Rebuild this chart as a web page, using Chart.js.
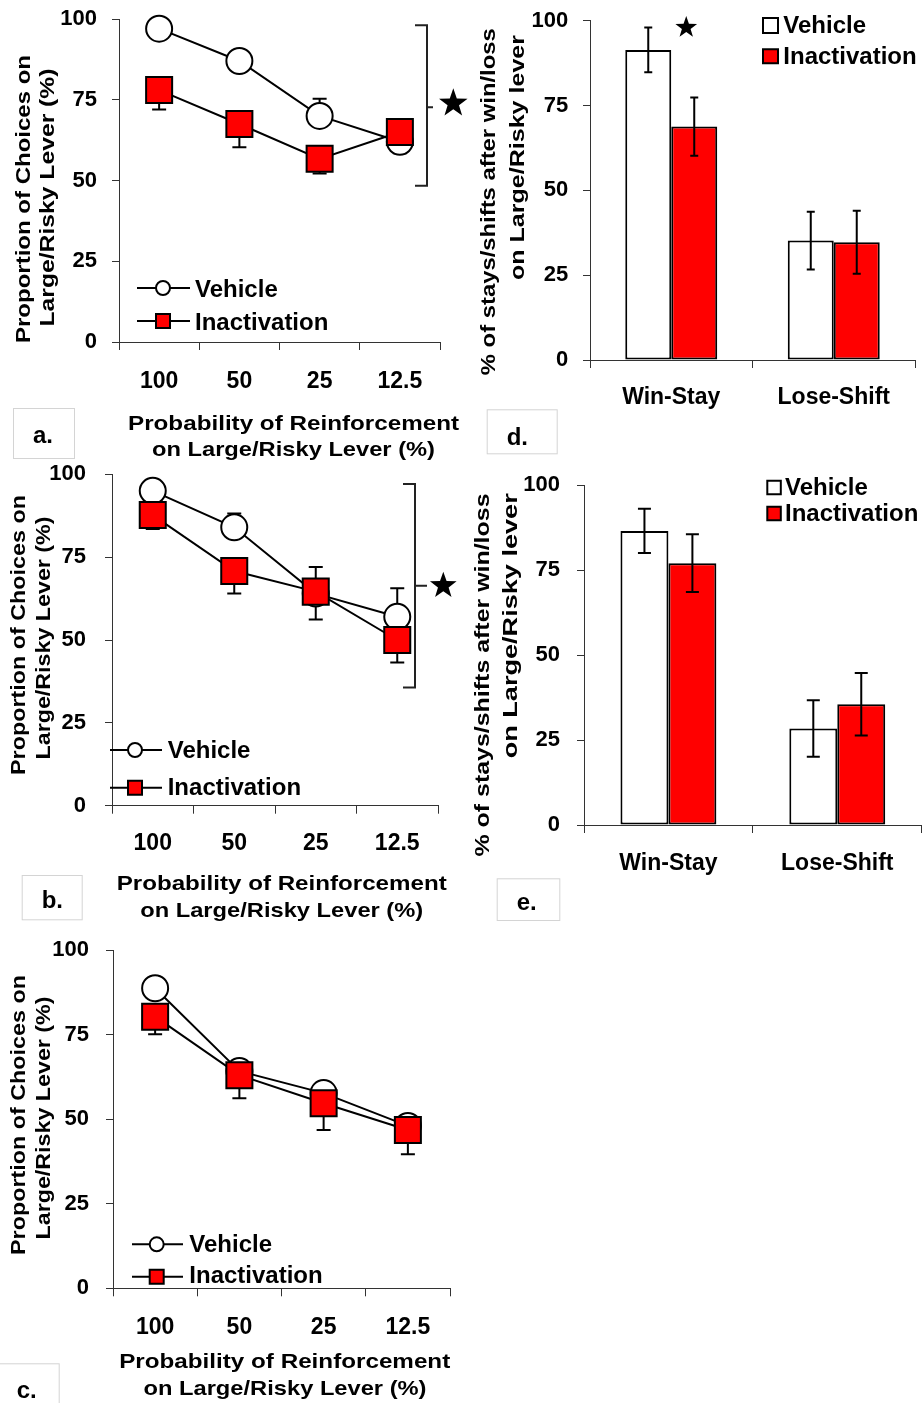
<!DOCTYPE html>
<html><head><meta charset="utf-8">
<script src="https://cdn.jsdelivr.net/npm/chart.js@4/dist/chart.umd.min.js"></script>
<style>
html,body{margin:0;padding:0;background:#fff;}
body{width:922px;height:1403px;position:relative;overflow:hidden;}
canvas{position:absolute;}
</style></head><body>
<canvas id="ca" width="470" height="460" style="left:0px;top:0px"></canvas>
<canvas id="cb" width="470" height="470" style="left:0px;top:460px"></canvas>
<canvas id="cc" width="470" height="473" style="left:0px;top:930px"></canvas>
<canvas id="cd" width="452" height="460" style="left:470px;top:0px"></canvas>
<canvas id="ce" width="462" height="470" style="left:460px;top:460px"></canvas>
<script>
// ---------------- data ----------------
const probLabels = ['100', '50', '25', '12.5'];
const barLabels = ['Win-Stay', 'Lose-Shift'];
const seriesNames = ['Vehicle', 'Inactivation'];
const yTickValues = [0, 25, 50, 75, 100];

// panel a
const vehicleA = [97, 87, 70, 62];
const vehicleA_err = [2.5, 2.5, 5.3, 3];
const inactA = [78, 67.5, 56.7, 65];
const inactA_err = [6, 7.2, 4.5, 6.6];
// panel b
const vehicleB = [95, 84, 64, 57];
const vehicleB_err = [2, 4.2, 8, 8.6];
const inactB = [87.7, 70.8, 64.6, 50];
const inactB_err = [4.2, 6.8, 8.4, 6.8];
// panel c
const vehicleC = [88.7, 64.2, 57.7, 48];
const vehicleC_err = [2, 2, 2, 2];
const inactC = [80.3, 63, 54.7, 46.8];
const inactC_err = [5.2, 6.8, 7.9, 7.2];
// panel d
const vehicleD = [91.4, 35.2];
const vehicleD_err = [6.6, 8.5];
const inactD = [68.8, 34.7];
const inactD_err = [8.6, 9.3];
// panel e
const vehicleE = [86.5, 28.4];
const vehicleE_err = [6.5, 8.3];
const inactE = [77, 35.5];
const inactE_err = [8.5, 9.2];

// ---------------- drawing helpers ----------------
const FONT = '"Liberation Sans", Arial, Helvetica, sans-serif';
Chart.defaults.font.family = FONT;
Chart.defaults.font.weight = 'bold';
Chart.defaults.color = '#000';

function scaledText(ctx, text, x, y, len, size, rot, align) {
  ctx.save();
  ctx.translate(x, y);
  if (rot) ctx.rotate(-Math.PI / 2);
  ctx.font = 'bold ' + size + 'px ' + FONT;
  const w = ctx.measureText(text).width;
  if (len) ctx.scale(len / w, 1);
  ctx.textAlign = align || 'center';
  ctx.textBaseline = 'alphabetic';
  ctx.fillStyle = '#000';
  ctx.fillText(text, 0, 0);
  ctx.restore();
}
function drawStar(ctx, cx, cy, R) {
  const r = R * 0.40;
  ctx.beginPath();
  for (let i = 0; i < 10; i++) {
    const ang = -Math.PI / 2 + i * Math.PI / 5;
    const rad = (i % 2) ? r : R;
    ctx.lineTo(cx + rad * Math.cos(ang), cy + rad * Math.sin(ang));
  }
  ctx.closePath();
  ctx.fillStyle = '#000';
  ctx.fill();
}

// error bars config per canvas
const ERR = {
  ca: {behind: true, sets: [{ds: 0, err: vehicleA_err, dir: 1, cap: 14}, {ds: 1, err: inactA_err, dir: -1, cap: 14}]},
  cb: {behind: true, sets: [{ds: 0, err: vehicleB_err, dir: 1, cap: 14}, {ds: 1, err: inactB_err, dir: -1, cap: 14}]},
  cc: {behind: true, sets: [{ds: 0, err: vehicleC_err, dir: 1, cap: 14}, {ds: 1, err: inactC_err, dir: -1, cap: 14}]},
  cd: {behind: false, sets: [{ds: 0, err: vehicleD_err, dir: 0, cap: 8}, {ds: 1, err: inactD_err, dir: 0, cap: 8}]},
  ce: {behind: false, sets: [{ds: 0, err: vehicleE_err, dir: 0, cap: 13}, {ds: 1, err: inactE_err, dir: 0, cap: 13}]}
};
function drawErr(chart) {
  const cfg = ERR[chart.canvas.id];
  if (!cfg) return;
  const ctx = chart.ctx, ys = chart.scales.y;
  ctx.save();
  ctx.strokeStyle = '#000';
  ctx.lineWidth = 2;
  cfg.sets.forEach(s => {
    const meta = chart.getDatasetMeta(s.ds);
    const vals = chart.data.datasets[s.ds].data;
    meta.data.forEach((el, j) => {
      const x = el.x, v = vals[j], e = s.err[j];
      const ends = s.dir === 0 ? [v + e, v - e] : [v + s.dir * e];
      const y0 = ys.getPixelForValue(s.dir === 0 ? v - e : v);
      ctx.beginPath();
      ctx.moveTo(x, y0);
      ctx.lineTo(x, ys.getPixelForValue(s.dir === 0 ? v + e : v + s.dir * e));
      ends.forEach(val => {
        const yy = ys.getPixelForValue(val);
        ctx.moveTo(x - s.cap / 2, yy);
        ctx.lineTo(x + s.cap / 2, yy);
      });
      ctx.stroke();
    });
  });
  ctx.restore();
}
const errorBarsPlugin = {
  id: 'errbars',
  beforeDatasetsDraw(chart) { const c = ERR[chart.canvas.id]; if (c && c.behind) drawErr(chart); },
  afterDatasetsDraw(chart) { const c = ERR[chart.canvas.id]; if (c && !c.behind) drawErr(chart); }
};

// annotation/layout config per canvas (page coordinates)
const DECOR = {
  ca: {ox: 0, oy: 0,
    yTitle: [{t: 'Proportion of Choices on', x: 30, cy: 199, len: 288, size: 21},
             {t: 'Large/Risky Lever (%)', x: 53.5, cy: 197.5, len: 258, size: 21}],
    xTitle: [{t: 'Probability of Reinforcement', cx: 293.5, y: 430, len: 331, size: 21},
             {t: 'on Large/Risky Lever (%)', cx: 293.5, y: 455.5, len: 283, size: 21}],
    lineLegend: {x0: 137, x1: 190, mx: 163, tx: 195, items: [{y: 288, tb: 296.7}, {y: 321, tb: 330}]},
    bracket: {x: 427, top: 98.1, bot: 48.4, mid: 72.7, serif: 12, tick: 6},
    star: {x: 453.3, v: 73.9, R: 15},
    label: {t: 'a.', box: [13, 408, 74, 458], x: 33, y: 443}
  },
  cb: {ox: 0, oy: 460,
    yTitle: [{t: 'Proportion of Choices on', x: 25, cy: 635, len: 280, size: 21},
             {t: 'Large/Risky Lever (%)', x: 50, cy: 638, len: 243, size: 21}],
    xTitle: [{t: 'Probability of Reinforcement', cx: 281.7, y: 890, len: 330, size: 21},
             {t: 'on Large/Risky Lever (%)', cx: 281.7, y: 916.7, len: 283, size: 21}],
    lineLegend: {x0: 110, x1: 162, mx: 135, tx: 167.7, items: [{y: 750, tb: 758.3}, {y: 787.7, tb: 795}]},
    bracket: {x: 415, top: 97.1, bot: 35.7, mid: 66.4, serif: 12, tick: 12},
    star: {x: 443.3, v: 66.4, R: 14},
    label: {t: 'b.', box: [21.7, 875, 81.7, 919.3], x: 41.7, y: 908.3}
  },
  cc: {ox: 0, oy: 930,
    yTitle: [{t: 'Proportion of Choices on', x: 25, cy: 1115, len: 280, size: 21},
             {t: 'Large/Risky Lever (%)', x: 50, cy: 1118, len: 243, size: 21}],
    xTitle: [{t: 'Probability of Reinforcement', cx: 284.7, y: 1368.3, len: 331, size: 21},
             {t: 'on Large/Risky Lever (%)', cx: 285, y: 1395, len: 283, size: 21}],
    lineLegend: {x0: 132, x1: 183, mx: 156.7, tx: 189.3, items: [{y: 1244.3, tb: 1251.7}, {y: 1276.7, tb: 1283.3}]},
    label: {t: 'c.', box: [-1, 1363.3, 58.7, 1410], x: 16.7, y: 1398.3}
  },
  cd: {ox: 470, oy: 0,
    yTitle: [{t: '% of stays/shifts after win/loss', x: 495, cy: 201.7, len: 347, size: 20},
             {t: 'on Large/Risky lever', x: 524, cy: 157.5, len: 245, size: 20}],
    barLegend: {tx: 783.3, items: [{box: [763, 18, 15, 15], tb: 33.3}, {box: [763, 49.3, 15, 14], tb: 64}]},
    barStar: {cat: 0, ds: 1, dx: -8, v: 98, R: 11.4},
    label: {t: 'd.', box: [486.7, 409.3, 556.7, 453.3], x: 506.7, y: 445}
  },
  ce: {ox: 460, oy: 460,
    yTitle: [{t: '% of stays/shifts after win/loss', x: 488.7, cy: 675, len: 363, size: 20},
             {t: 'on Large/Risky lever', x: 517, cy: 625.8, len: 265, size: 20}],
    barLegend: {tx: 785, items: [{box: [767.3, 480.7, 13.5, 13.5], tb: 495}, {box: [767.3, 506.7, 13.5, 13.5], tb: 520.7}]},
    label: {t: 'e.', box: [496.7, 878.3, 559.3, 920], x: 516.7, y: 910}
  }
};

const decorPlugin = {
  id: 'decor',
  afterDraw(chart) {
    const cfg = DECOR[chart.canvas.id];
    if (!cfg) return;
    const ctx = chart.ctx, ox = cfg.ox, oy = cfg.oy, ys = chart.scales.y;
    const ds = chart.data.datasets;
    ctx.save();
    (cfg.yTitle || []).forEach(t => scaledText(ctx, t.t, t.x - ox, t.cy - oy, t.len, t.size, true));
    (cfg.xTitle || []).forEach(t => scaledText(ctx, t.t, t.cx - ox, t.y - oy, t.len, t.size, false));
    if (cfg.lineLegend) {
      const L = cfg.lineLegend;
      L.items.forEach((it, i) => {
        const y = it.y - oy;
        ctx.strokeStyle = '#000'; ctx.lineWidth = 2;
        ctx.beginPath(); ctx.moveTo(L.x0 - ox, y); ctx.lineTo(L.x1 - ox, y); ctx.stroke();
        const mx = L.mx - ox;
        ctx.fillStyle = ds[i].pointBackgroundColor;
        ctx.beginPath();
        if (i === 0) ctx.arc(mx, y, 7, 0, Math.PI * 2);
        else ctx.rect(mx - 7, y - 7, 14, 14);
        ctx.fill(); ctx.stroke();
        scaledText(ctx, ds[i].label, L.tx - ox, it.tb - oy, null, 24, false, 'left');
      });
    }
    if (cfg.barLegend) {
      const L = cfg.barLegend;
      L.items.forEach((it, i) => {
        ctx.fillStyle = ds[i].backgroundColor;
        ctx.strokeStyle = '#000'; ctx.lineWidth = 2;
        ctx.beginPath();
        ctx.rect(it.box[0] - ox, it.box[1] - oy, it.box[2], it.box[3]);
        ctx.fill(); ctx.stroke();
        scaledText(ctx, ds[i].label, L.tx - ox, it.tb - oy, null, 24, false, 'left');
      });
    }
    if (cfg.bracket) {
      const b = cfg.bracket, bx = b.x - ox;
      const yt = ys.getPixelForValue(b.top), yb = ys.getPixelForValue(b.bot), ym = ys.getPixelForValue(b.mid);
      ctx.strokeStyle = '#222'; ctx.lineWidth = 2;
      ctx.beginPath();
      ctx.moveTo(bx - b.serif, yt); ctx.lineTo(bx, yt); ctx.lineTo(bx, yb); ctx.lineTo(bx - b.serif, yb);
      ctx.moveTo(bx, ym); ctx.lineTo(bx + b.tick, ym);
      ctx.stroke();
    }
    if (cfg.star) {
      drawStar(ctx, cfg.star.x - ox, ys.getPixelForValue(cfg.star.v), cfg.star.R);
    }
    if (cfg.barStar) {
      const s = cfg.barStar;
      const el = chart.getDatasetMeta(s.ds).data[s.cat];
      drawStar(ctx, el.x + s.dx, ys.getPixelForValue(s.v), s.R);
    }
    if (cfg.label) {
      const l = cfg.label;
      ctx.strokeStyle = '#d4d4d4'; ctx.lineWidth = 1;
      ctx.strokeRect(l.box[0] - ox + 0.5, l.box[1] - oy + 0.5, l.box[2] - l.box[0], l.box[3] - l.box[1]);
      scaledText(ctx, l.t, l.x - ox, l.y - oy, null, 24, false, 'left');
    }
    ctx.restore();
  }
};
Chart.register(errorBarsPlugin, decorPlugin);

function yScale(L) {
  return {
    min: 0, max: 100,
    afterBuildTicks: s => { s.ticks = yTickValues.map(v => ({value: v})); },
    ticks: {font: {size: 22, weight: 'bold'}, color: '#000', padding: L.ypad},
    grid: {drawOnChartArea: false, drawTicks: true, tickLength: 7, color: '#333', lineWidth: 1},
    border: {color: '#333', width: 1},
    afterFit: s => { s.width = L.yw; s.paddingTop = 0; s.paddingBottom = 0; }
  };
}
function xScale(L) {
  return {
    offset: true,
    ticks: {font: {size: 23, weight: 'bold'}, color: '#000', padding: L.xpad, maxRotation: 0, autoSkip: false},
    grid: {offset: true, drawOnChartArea: false, drawTicks: true, tickLength: 8, color: '#333', lineWidth: 1},
    border: {color: '#333', width: 1},
    afterFit: s => { s.height = L.xh; s.paddingLeft = 0; s.paddingRight = 0; }
  };
}

function commonOptions(L) {
  return {
    responsive: false, animation: false, devicePixelRatio: 1,
    layout: {autoPadding: false, padding: {left: 0, top: L.top, right: L.right, bottom: 0}},
    plugins: {legend: {display: false}, tooltip: {enabled: false}},
    scales: {x: xScale(L), y: yScale(L)}
  };
}

function lineChart(id, veh, ina, L) {
  new Chart(document.getElementById(id), {
    type: 'line',
    data: {
      labels: probLabels,
      datasets: [
        {label: seriesNames[0], data: veh, borderColor: '#000', borderWidth: 2, tension: 0,
         pointStyle: 'circle', pointRadius: 13, pointBackgroundColor: '#fff', pointBorderColor: '#000',
         pointBorderWidth: 2, order: 1, clip: false},
        {label: seriesNames[1], data: ina, borderColor: '#000', borderWidth: 2, tension: 0,
         pointStyle: 'rect', pointRadius: 18.4, pointBackgroundColor: '#ff0000', pointBorderColor: '#000',
         pointBorderWidth: 2, order: 0, clip: false}
      ]
    },
    options: commonOptions(L)
  });
}
function barChart(id, veh, ina, L) {
  new Chart(document.getElementById(id), {
    type: 'bar',
    data: {
      labels: barLabels,
      datasets: [
        {label: seriesNames[0], data: veh, backgroundColor: '#fff', borderColor: '#000', borderWidth: 2,
         borderSkipped: false, categoryPercentage: L.cp, barPercentage: 1},
        {label: seriesNames[1], data: ina, backgroundColor: '#ff0000', borderColor: '#000', borderWidth: 2,
         borderSkipped: false, categoryPercentage: L.cp, barPercentage: 1}
      ]
    },
    options: commonOptions(L)
  });
}

lineChart('ca', vehicleA, inactA, {top: 19, right: 30, yw: 119, xh: 118, xpad: 17.8, ypad: 15});
lineChart('cb', vehicleB, inactB, {top: 14.3, right: 32, yw: 112, xh: 124.3, xpad: 15.8, ypad: 19});
lineChart('cc', vehicleC, inactC, {top: 20, right: 20, yw: 113, xh: 114.7, xpad: 17.7, ypad: 17});
barChart('cd', vehicleD, inactD, {top: 20.7, right: 7, yw: 120, xh: 100, xpad: 15.5, ypad: 14.7, cp: 0.566});
barChart('ce', vehicleE, inactE, {top: 25, right: 0.3, yw: 124, xh: 105, xpad: 16.5, ypad: 17, cp: 0.568});
</script>
</body></html>
